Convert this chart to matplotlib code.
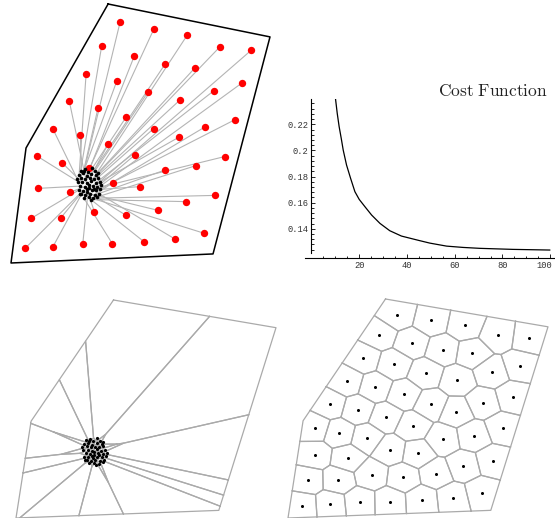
import numpy as np
import matplotlib
matplotlib.use("Agg")
import matplotlib.pyplot as plt
import matplotlib.transforms as mtransforms

# region boundary (normalized, square units)
region_x = [0.375, 1.000, 0.780, 0.000, 0.058]
region_y = [1.000, 0.873, 0.035, 0.000, 0.444]

# final agent positions (red dots / right voronoi sites)
final_x = [0.421, 0.551, 0.680, 0.350, 0.807, 0.927, 0.476, 0.595, 0.709, 0.290,
           0.408, 0.893, 0.529, 0.783, 0.225, 0.651, 0.336, 0.445, 0.864, 0.750,
           0.161, 0.551, 0.268, 0.647, 0.375, 0.479, 0.102, 0.825, 0.197, 0.714,
           0.595, 0.302, 0.393, 0.499, 0.103, 0.229, 0.788, 0.674, 0.569, 0.322,
           0.443, 0.077, 0.192, 0.745, 0.634, 0.515, 0.391, 0.277, 0.162, 0.055]
final_y = [0.929, 0.902, 0.879, 0.837, 0.835, 0.821, 0.799, 0.768, 0.752, 0.730,
           0.701, 0.696, 0.660, 0.665, 0.625, 0.628, 0.598, 0.564, 0.553, 0.526,
           0.519, 0.519, 0.494, 0.485, 0.459, 0.418, 0.412, 0.411, 0.387, 0.376,
           0.359, 0.365, 0.310, 0.295, 0.288, 0.273, 0.261, 0.237, 0.203, 0.198,
           0.185, 0.172, 0.174, 0.115, 0.092, 0.081, 0.075, 0.073, 0.063, 0.057]

# initial agent positions (black cluster)
start_x = [0.269, 0.284, 0.297, 0.313, 0.323, 0.263, 0.278, 0.293, 0.310, 0.330,
           0.272, 0.287, 0.304, 0.321, 0.336, 0.259, 0.275, 0.292, 0.310, 0.327,
           0.342, 0.268, 0.284, 0.300, 0.317, 0.333, 0.261, 0.278, 0.295, 0.313,
           0.330, 0.345, 0.272, 0.287, 0.305, 0.323, 0.339, 0.281, 0.300, 0.318,
           0.333, 0.255, 0.349, 0.265, 0.308, 0.292, 0.321, 0.282, 0.336, 0.300]
start_y = [0.357, 0.363, 0.352, 0.365, 0.354, 0.341, 0.346, 0.337, 0.343, 0.339,
           0.328, 0.324, 0.327, 0.325, 0.330, 0.314, 0.311, 0.309, 0.315, 0.309,
           0.313, 0.297, 0.295, 0.291, 0.298, 0.294, 0.281, 0.278, 0.276, 0.282,
           0.280, 0.284, 0.265, 0.262, 0.267, 0.263, 0.268, 0.251, 0.254, 0.250,
           0.255, 0.326, 0.300, 0.267, 0.245, 0.286, 0.287, 0.355, 0.348, 0.302]

# cost function
iter_n = [10.1, 10.8, 11.6, 12.5, 13.3, 14.7, 16.4, 18.2, 20.0, 22.4, 25.2,
          28.7, 32.8, 37.7, 45.1, 49.6, 56.6, 63.5, 70.5, 84.4, 99.8]
cost = [0.2392, 0.2284, 0.2182, 0.2090, 0.2003, 0.1888, 0.1786, 0.1684, 0.1625,
        0.1569, 0.1505, 0.1441, 0.1385, 0.1344, 0.1310, 0.1290, 0.1267, 0.1257,
        0.1250, 0.1242, 0.1237]

W, H = 555, 518
fig = plt.figure(figsize=(W / 100, H / 100), dpi=100)
plt.rcParams['mathtext.fontset'] = 'cm'


def px_axes(x0, y0, x1, y1):
    # axes from pixel box (top-left origin)
    return fig.add_axes([x0 / W, (H - y1) / H, (x1 - x0) / W, (y1 - y0) / H])


def clip(poly, a, b):
    out = []
    n = len(poly)
    for k in range(n):
        P = poly[k]
        Q = poly[(k + 1) % n]
        dp = a @ P - b
        dq = a @ Q - b
        if dp <= 0:
            out.append(P)
        if dp * dq < 0:
            t = dp / (dp - dq)
            out.append(P + t * (Q - P))
    return out


def voronoi_cells(xs, ys):
    pts = np.column_stack([xs, ys])
    base = [np.array(p) for p in zip(region_x, region_y)]
    cells = []
    for i, p in enumerate(pts):
        cell = list(base)
        for j, q in enumerate(pts):
            if i == j:
                continue
            a = q - p
            cell = clip(cell, a, a @ (p + q) / 2)
            if not cell:
                break
        cells.append(np.array(cell))
    return cells


rx = region_x + region_x[:1]
ry = region_y + region_y[:1]

# ---- top-left: trajectories
ax1 = px_axes(11, 4, 270, 263)
ax1.set_xlim(0, 1)
ax1.set_ylim(0, 1)
ax1.axis('off')
ax1.plot(rx, ry, color='black', lw=1.1, clip_on=False)

sx, sy = np.array(start_x), np.array(start_y)
fx, fy = np.array(final_x), np.array(final_y)
cx, cy = sx.mean(), sy.mean()
order_s = np.argsort(np.arctan2(sy - cy, sx - cx))
order_f = np.argsort(np.arctan2(fy - cy, fx - cx))
for i_s, i_f in zip(order_s, order_f):
    ax1.plot([sx[i_s], fx[i_f]], [sy[i_s], fy[i_f]], color='#b4b4b4', lw=0.8)
ax1.plot(fx, fy, 'o', color='red', ms=5.3, mec='none')
ax1.plot(sx, sy, 'o', color='black', ms=2.6, mec='none')

# ---- top-right: cost function
ax2 = px_axes(305, 99, 555, 258)
ax2.plot(iter_n, cost, color='black', lw=0.9)
ax2.set_xlim(-2.7, 102)
ax2.set_ylim(0.1176, 0.2394)
for s in ['top', 'right']:
    ax2.spines[s].set_visible(False)
ax2.spines['left'].set_position(('data', 0))
ax2.spines['left'].set_bounds(0.1211, 0.2394)
ax2.spines['left'].set_linewidth(0.8)
ax2.spines['bottom'].set_linewidth(0.8)
ax2.set_xticks([20, 40, 60, 80, 100])
ax2.set_xticks(np.arange(5, 101, 5), minor=True)
ax2.set_yticks([0.14, 0.16, 0.18, 0.2, 0.22])
ax2.set_yticklabels(['0.14', '0.16', '0.18', '0.2', '0.22'])
ax2.set_yticks(np.arange(0.124, 0.2381, 0.004), minor=True)
ax2.tick_params(which='both', direction='in', width=0.6, colors='black',
                labelcolor='#333333', labelsize=6.3, pad=2)
ax2.tick_params(which='major', length=3.2)
ax2.tick_params(which='minor', length=1.8)
for lab in ax2.get_xticklabels() + ax2.get_yticklabels():
    lab.set_family('Liberation Mono')
# keep the last x label inside the figure
last = ax2.get_xticklabels()[-1]
last.set_transform(last.get_transform() +
                   mtransforms.ScaledTranslation(-6 / 100, 0, fig.dpi_scale_trans))
fig.text(548 / W, (H - 96) / H, r'$\mathrm{Cost\ Function}$', ha='right',
         va='baseline', fontsize=12.5, color='#222222')

# ---- bottom-left: voronoi of start positions
ax3 = px_axes(16, 300, 276, 518)
ax3.set_xlim(0, 1)
ax3.set_ylim(0, 1)
ax3.axis('off')
for c in voronoi_cells(start_x, start_y):
    ax3.plot(np.append(c[:, 0], c[0, 0]), np.append(c[:, 1], c[0, 1]),
             color='#aaaaaa', lw=0.9, clip_on=False)
ax3.plot(sx, sy, 'o', color='black', ms=2.3, mec='none')

# ---- bottom-right: voronoi of final positions
ax4 = px_axes(288, 299, 548, 518)
ax4.set_xlim(0, 1)
ax4.set_ylim(0, 1)
ax4.axis('off')
for c in voronoi_cells(final_x, final_y):
    ax4.plot(np.append(c[:, 0], c[0, 0]), np.append(c[:, 1], c[0, 1]),
             color='#aaaaaa', lw=0.9, clip_on=False)
ax4.plot(fx, fy, 'o', color='black', ms=2.2, mec='none')

fig.savefig('out.png', dpi=100)
